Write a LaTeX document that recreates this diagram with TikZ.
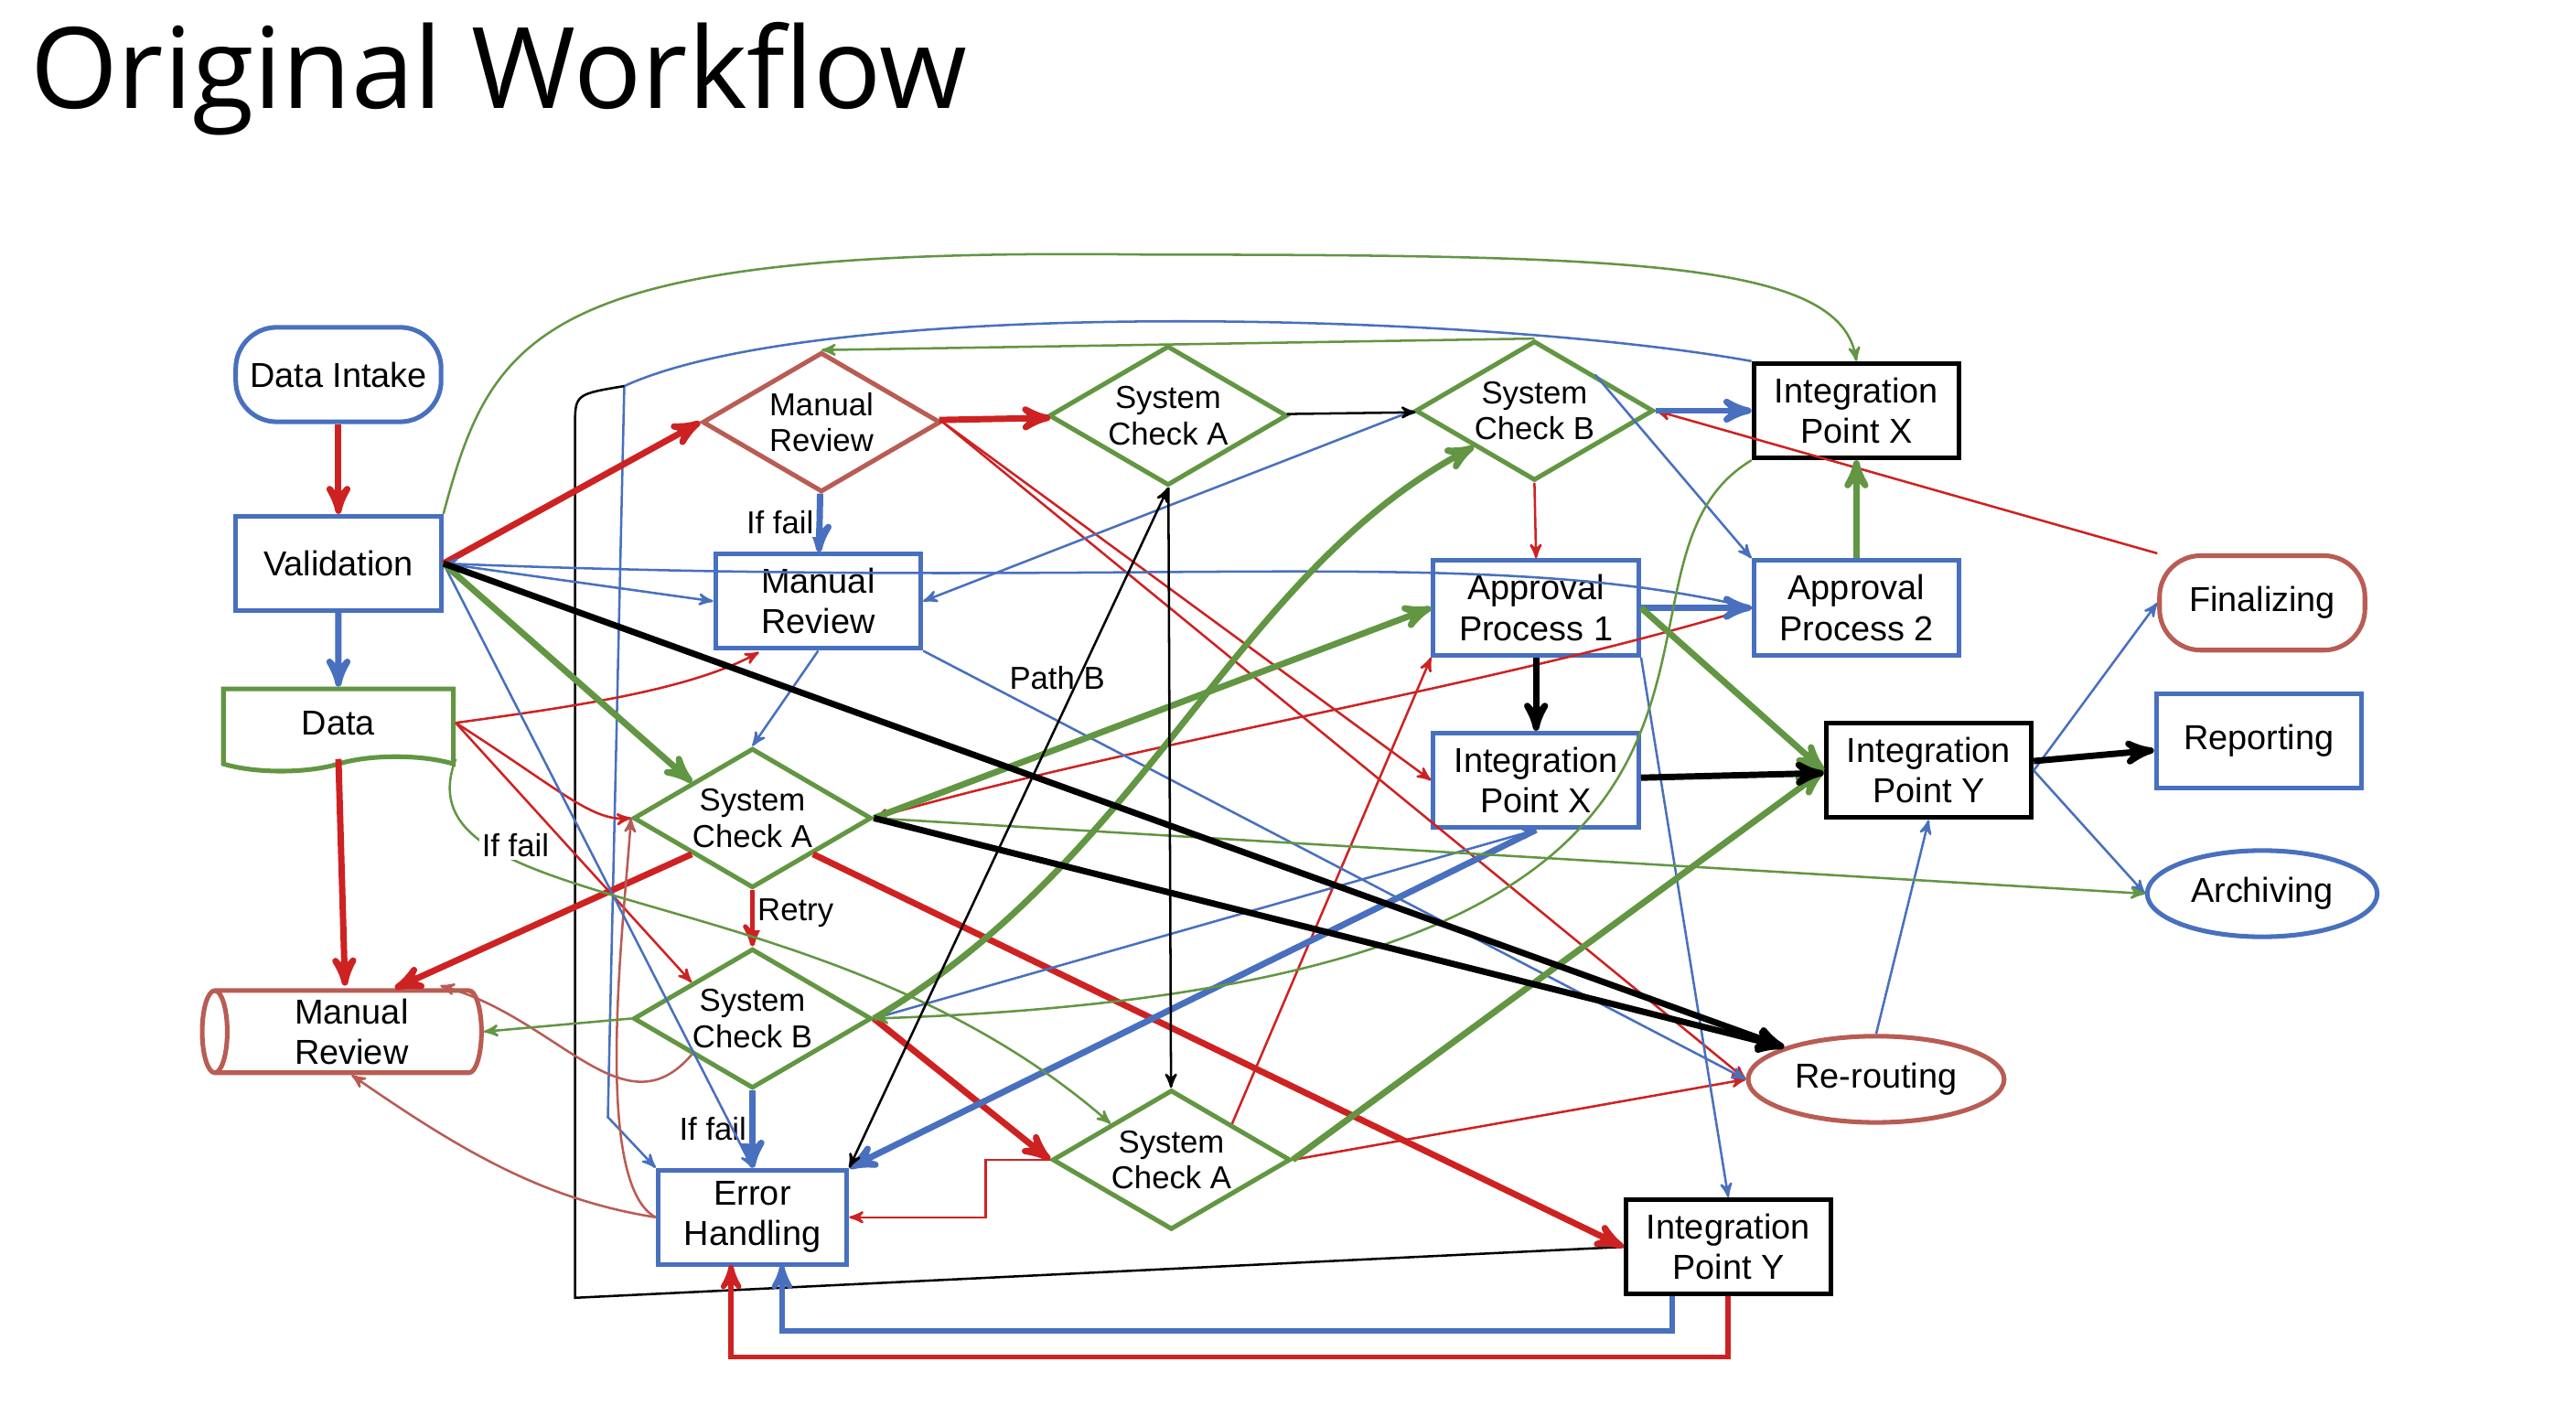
\documentclass[tikz,border=0pt]{standalone}
\usepackage{fontspec}
\setmainfont{Liberation Sans}
\newfontfamily\titlefont{Open Sans}
\usetikzlibrary{arrows,shapes.geometric,shapes.symbols}
\definecolor{wred}{RGB}{206,34,34}
\definecolor{wblue}{RGB}{72,112,190}
\definecolor{wgreen}{RGB}{98,150,66}
\definecolor{wbrown}{RGB}{184,92,84}
\begin{document}
\begin{tikzpicture}[x=0.2mm,y=-0.2mm,>=stealth',semithick,
  every node/.style={font=\fontsize{12}{14}\selectfont,align=center},
  box/.style={draw=wblue,line width=1.6pt,minimum width=25mm,minimum height=11.5mm,fill=white},
  bbox/.style={draw=black,line width=1.6pt,minimum width=25mm,minimum height=11.5mm,fill=white},
  rbox/.style={box,rounded corners=5mm},
  dia/.style={diamond,aspect=1.7,draw=wgreen,line width=1.6pt,fill=white,inner sep=0pt,minimum width=29mm,minimum height=17mm,font=\fontsize{11}{12.5}\selectfont},
  ell/.style={ellipse,draw=wblue,line width=1.6pt,fill=white,minimum width=28mm,minimum height=10.5mm},
  lab/.style={font=\fontsize{11}{13}\selectfont,text=black,fill=white,inner sep=1pt},
  r/.style={->,wred,thick}, R/.style={->,wred,line width=2.2pt},
  b/.style={->,wblue,thick}, B/.style={->,wblue,line width=2.2pt},
  g/.style={->,wgreen,thick}, G/.style={->,wgreen,line width=2.2pt},
  k/.style={->,black,thick}, K/.style={->,black,line width=2.2pt},
  n/.style={->,wbrown,thick}]
  \useasboundingbox[fill=white] (0,0) rectangle (1568,855);
  \node[anchor=west,font=\titlefont\fontsize{39}{44}\selectfont] (title) at (12,48) {Original Workflow};

  % nodes
  \node[rbox] (intake) at (206,228) {Data Intake};
  \node[box] (valid) at (206,343) {Validation};
  \node[tape,tape bend top=none,draw=wgreen,line width=1.6pt,fill=white,minimum width=28mm,minimum height=10mm] (data) at (206,440) {Data};
  \node[cylinder,shape border rotate=180,aspect=0.35,draw=wbrown,line width=1.6pt,fill=white,minimum width=10mm,minimum height=34mm,inner sep=1pt] (mrcyl) at (214,628) {Manual\\Review};
  \node[dia,draw=wbrown] (mr1) at (500,257) {Manual\\Review};
  \node[dia] (sca1) at (711,253) {System\\Check A};
  \node[dia] (scb1) at (934,250) {System\\Check B};
  \node[bbox] (ipx1) at (1130,250) {Integration\\Point X};
  \node[box] (mr2) at (498,366) {Manual\\Review};
  \node[box] (ap1) at (935,370) {Approval\\Process 1};
  \node[box] (ap2) at (1130,370) {Approval\\Process 2};
  \node[rbox,draw=wbrown] (final) at (1377,367) {Finalizing};
  \node[box] (ipx2) at (935,475) {Integration\\Point X};
  \node[bbox] (ipy1) at (1174,469) {Integration\\Point Y};
  \node[box] (report) at (1375,451) {Reporting};
  \node[ell] (arch) at (1377,544) {Archiving};
  \node[dia] (sca2) at (458,498) {System\\Check A};
  \node[dia] (scb2) at (458,620) {System\\Check B};
  \node[ell,draw=wbrown] (reroute) at (1142,657) {Re-routing};
  \node[dia] (sca3) at (713,706) {System\\Check A};
  \node[box,minimum width=23mm] (err) at (458,741) {Error\\Handling};
  \node[bbox] (ipy2) at (1052,759) {Integration\\Point Y};

  % long loops
  \draw[g] (valid.north east) .. controls (300,200) and (330,150) .. (700,155) .. controls (1000,155) and (1120,160) .. (ipx1.north);
  \draw[b] (ipx1.north west) .. controls (900,190) and (500,180) .. (380,235) -- (370,680) -- (err.north west);
  \draw[black,thick] (ipy2.west) -- (350,790) -- (350,260) .. controls (350,240) .. (380,235);
  \draw[->,wblue,line width=1.8pt] (1018,789) -- (1018,810) -- (476,810) -- (476,770);
  \draw[->,wred,line width=1.8pt] (1052,789) -- (1052,826) -- (445,826) -- (445,770);

  % red
  \draw[R] (intake) -- (valid);
  \draw[R] (valid.east) -- (mr1.west);
  \draw[R] (mr1) -- (sca1);
  \draw[R] (data.south) -- (210,600);
  \draw[R] (sca2.south west) -- (mrcyl.north east);
  \draw[R] (sca2.south east) -- (ipy2.west);
  \draw[R] (scb2.east) -- (sca3.west);
  \draw[->,wred,line width=1.6pt] (sca2.south) -- node[lab,right,pos=0.4] {Retry} (scb2.north);
  \draw[r] (sca3.west) -- (600,706) -- (600,741) -- (err.east);
  \draw[r] (mr1.east) -- (ipx2.west);
  \draw[r] (mr1.east) -- (reroute.west);
  \draw[r] (data.east) .. controls (350,430) and (420,420) .. (462,397);
  \draw[r] (data.east) -- (scb2.north west);
  \draw[r] (data.east) .. controls (340,480) and (360,500) .. (sca2.west);
  \draw[r] (scb1.south) -- (ap1.north);
  \draw[r] (final.north west) -- (scb1.east);
  \draw[r] (ap2.west) .. controls (900,420) and (700,450) .. (sca2.east);
  \draw[r] (sca3.north east) -- (ap1.south west);
  \draw[r] (sca3.east) -- (reroute.west);
  \draw[r] (sca2.east) -- (reroute.north west);
  \draw[n] (err.west) .. controls (360,720) and (380,560) .. (sca2.west);
  \draw[n] (err.west) .. controls (330,730) and (280,700) .. (mrcyl.south);
  \draw[n] (scb2.south west) .. controls (380,690) and (340,620) .. (268,600);

  % blue
  \draw[B] (valid) -- (data);
  \draw[B] (mr1) -- node[lab,left] {If fail} (mr2);
  \draw[B] (scb1) -- (ipx1);
  \draw[B] (scb2) -- node[lab,left] {If fail} (err);
  \draw[B] (ap1) -- (ap2);
  \draw[B] (ipx2.south) -- (err.north east);
  \draw[b] (valid.east) -- (mr2.west);
  \draw[b] (mr2.south) -- (sca2.north);
  \draw[b] (mr2.south east) -- node[lab,pos=0.1,above right] {Path B} (reroute.west);
  \draw[b] (valid.east) -- (err.north);
  \draw[b] (scb1.west) -- (mr2.east);
  \draw[b] (ap2.west) .. controls (900,330) and (700,360) .. (valid.east);
  \draw[b] (ipy1.east) -- (final.west);
  \draw[b] (ipy1.east) -- (arch.west);
  \draw[b] (reroute.north) -- (ipy1.south);
  \draw[b] (ap1.south east) -- (ipy2.north);
  \draw[b] (scb2.east) -- (ipx2.south);
  \draw[b] (scb1.north east) -- (ap2.north west);

  % green
  \draw[G] (valid.east) -- (sca2.north west);
  \draw[g] (scb1.north) -- (mr1.north);
  \draw[G] (sca2.east) -- (ap1.west);
  \draw[G] (scb2.east) .. controls (700,520) and (750,350) .. (scb1.south west);
  \draw[G] (sca3.east) -- (ipy1.west);
  \draw[G] (ap2) -- (ipx1);
  \draw[G] (ap1.east) -- (ipy1.west);
  \draw[g] (ipx1.south west) .. controls (950,350) and (1150,600) .. (scb2.east);
  \draw[g] (sca2.east) -- (arch.west);
  \draw[g] (data.south east) .. controls (240,560) and (500,530) .. node[lab,pos=0.3,above] {If fail} (sca3.north west);
  \draw[g] (scb2.west) -- (mrcyl.east);

  % black
  \draw[K] (valid.east) -- (reroute.north west);
  \draw[K] (sca2.east) -- (reroute.north west);
  \draw[K] (ipx2) -- (ipy1);
  \draw[K] (ap1) -- (ipx2);
  \draw[K] (ipy1) -- (report);
  \draw[k] (sca1) -- (scb1);
  \draw[k] (sca1) -- (sca3);
  \draw[<->,black,thick] (err.north east) -- (sca1.south);
\end{tikzpicture}
\end{document}
